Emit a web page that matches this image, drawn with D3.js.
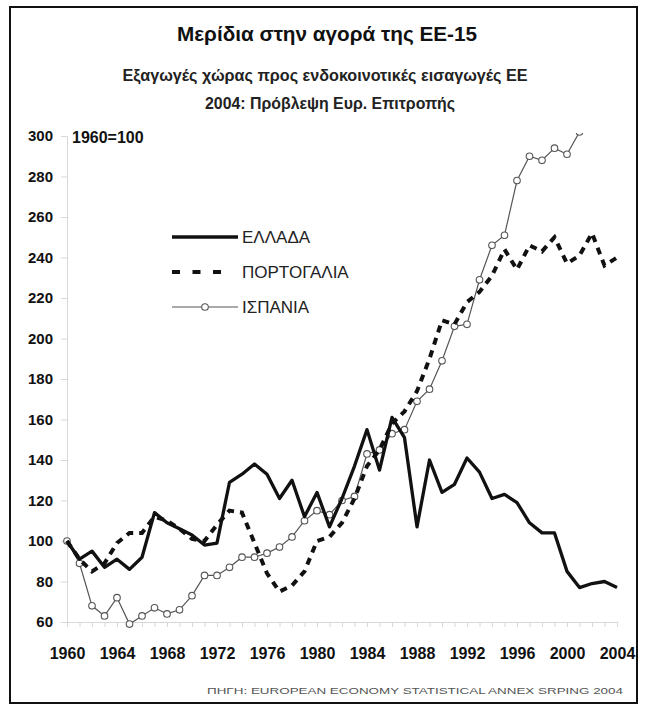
<!DOCTYPE html>
<html>
<head>
<meta charset="utf-8">
<script src="https://cdn.jsdelivr.net/npm/d3@7"></script>
<style>
  body { margin: 0; background: #fff; }
  text { font-family: "Liberation Sans", Arial, sans-serif; }
</style>
</head>
<body>
<div id="canvas"></div>
<script>
// Data (1960 = 100)
var years = d3.range(1960, 2005);
var greece = [100, 91, 95, 87, 91, 86, 92, 114, 109, 106, 103, 98, 99, 129, 133, 138, 133, 121, 130, 112,
              124, 107, 121, 137, 155, 135, 161, 151, 107, 140, 124, 128, 141, 134, 121, 123, 119, 109, 104, 104,
              85, 77, 79, 80, 77];
var portugal = [100, 91, 85, 89, 99, 104, 104, 112, 110, 106, 101, 100, 108, 115, 114, 99, 84, 75, 78, 85,
                100, 102, 109, 121, 137, 145, 158, 164, 174, 190, 209, 207, 218, 223, 231, 244, 234, 246, 243, 250,
                237, 241, 252, 236, 240];
var spainYears = d3.range(1960, 2002);
var spain = [100, 89, 68, 63, 72, 59, 63, 67, 64, 66, 73, 83, 83, 87, 92, 92, 94, 97, 102, 110,
             115, 113, 120, 122, 143, 145, 153, 155, 169, 175, 189, 206, 207, 229, 246, 251, 278, 290, 288, 294,
             291, 302];
var yTicks = [60, 80, 100, 120, 140, 160, 180, 200, 220, 240, 260, 280, 300];
var seriesNames = ["ΕΛΛΑΔΑ", "ΠΟΡΤΟΓΑΛΙΑ", "ΙΣΠΑΝΙΑ"];

var w = 645, h = 710;

var svg = d3.select("#canvas")
    .append("svg")
    .attr("width", w)
    .attr("height", h)
    .style("background-color", "white");

// frame
svg.append("rect")
    .attr("x", 10).attr("y", 7)
    .attr("width", 627).attr("height", 696)
    .attr("fill", "none")
    .attr("stroke", "#111")
    .attr("stroke-width", 2);

// titles
svg.append("text")
    .attr("x", 327).attr("y", 41)
    .attr("text-anchor", "middle")
    .attr("textLength", 300).attr("lengthAdjust", "spacingAndGlyphs")
    .style("font-size", "20px").style("font-weight", "bold").style("fill", "#111")
    .text("Μερίδια στην αγορά της ΕΕ-15");

svg.append("text")
    .attr("x", 325).attr("y", 81)
    .attr("text-anchor", "middle")
    .attr("textLength", 405).attr("lengthAdjust", "spacingAndGlyphs")
    .style("font-size", "16px").style("font-weight", "bold").style("fill", "#222")
    .text("Εξαγωγές χώρας προς ενδοκοινοτικές εισαγωγές ΕΕ");

svg.append("text")
    .attr("x", 330).attr("y", 109)
    .attr("text-anchor", "middle")
    .attr("textLength", 250).attr("lengthAdjust", "spacingAndGlyphs")
    .style("font-size", "16px").style("font-weight", "bold").style("fill", "#222")
    .text("2004: Πρόβλεψη Ευρ.  Επιτροπής");

// scales
var x_scale = d3.scaleLinear().domain([1960, 2004]).range([67, 617]);
var y_scale = d3.scaleLinear().domain([60, 300]).range([622, 136]);

// x axis
var xAxis = svg.append("g")
    .attr("transform", "translate(0,622)")
    .call(d3.axisBottom(x_scale).tickValues(years).tickSize(5)
        .tickFormat(d => d % 4 === 0 ? d : ""));
xAxis.select(".domain").attr("stroke", "#d8d8d8");
xAxis.selectAll(".tick line").attr("stroke", "#d8d8d8");
xAxis.selectAll("text")
    .attr("y", 31).attr("dy", "0.35em")
    .style("font-size", "16px").style("font-weight", "bold")
    .style("font-family", "'Liberation Sans', Arial, sans-serif")
    .attr("fill", "#111");

// y axis
var yAxis = svg.append("g")
    .attr("transform", "translate(67,0)")
    .call(d3.axisLeft(y_scale).tickValues(yTicks).tickSize(6).tickPadding(8));
yAxis.select(".domain").attr("stroke", "#d8d8d8");
yAxis.selectAll(".tick line").attr("stroke", "#d8d8d8");
yAxis.selectAll("text")
    .style("font-size", "15px").style("font-weight", "bold")
    .style("font-family", "'Liberation Sans', Arial, sans-serif")
    .attr("fill", "#111");

svg.append("text")
    .attr("x", 72).attr("y", 143)
    .style("font-size", "16px").style("font-weight", "bold").style("fill", "#111")
    .text("1960=100");

// clip plot area
svg.append("clipPath").attr("id", "plotclip")
    .append("rect")
    .attr("x", 55).attr("y", y_scale(301.5))
    .attr("width", 580).attr("height", 622 - y_scale(301.5) + 10);

var plot = svg.append("g").attr("clip-path", "url(#plotclip)");

var line = d3.line()
    .x(d => x_scale(d[0]))
    .y(d => y_scale(d[1]));

var spainPts = spainYears.map((yr, i) => [yr, spain[i]]);
var greecePts = years.map((yr, i) => [yr, greece[i]]);
var portugalPts = years.map((yr, i) => [yr, portugal[i]]);

plot.append("path")
    .datum(spainPts)
    .attr("d", line)
    .attr("fill", "none")
    .attr("stroke", "#555")
    .attr("stroke-width", 1.2);

plot.selectAll(".spain-dot")
    .data(spainPts)
    .join("circle")
    .attr("class", "spain-dot")
    .attr("cx", d => x_scale(d[0]))
    .attr("cy", d => y_scale(d[1]))
    .attr("r", 3.3)
    .attr("fill", "white")
    .attr("stroke", "#555")
    .attr("stroke-width", 1.1);

plot.append("path")
    .datum(portugalPts)
    .attr("d", line)
    .attr("fill", "none")
    .attr("stroke", "#111")
    .attr("stroke-width", 4)
    .attr("stroke-dasharray", "7,6");

plot.append("path")
    .datum(greecePts)
    .attr("d", line)
    .attr("fill", "none")
    .attr("stroke", "#111")
    .attr("stroke-width", 3.3)
    .attr("stroke-linejoin", "round");

// legend
var legend = svg.append("g");
var legY = [237, 272, 307];

legend.append("line")
    .attr("x1", 172).attr("x2", 238).attr("y1", legY[0]).attr("y2", legY[0])
    .attr("stroke", "#111").attr("stroke-width", 3.3);
legend.append("line")
    .attr("x1", 172).attr("x2", 224).attr("y1", legY[1]).attr("y2", legY[1])
    .attr("stroke", "#111").attr("stroke-width", 4)
    .attr("stroke-dasharray", "8,12.5");
legend.append("line")
    .attr("x1", 172).attr("x2", 238).attr("y1", legY[2]).attr("y2", legY[2])
    .attr("stroke", "#555").attr("stroke-width", 1.2);
legend.append("circle")
    .attr("cx", 205).attr("cy", legY[2]).attr("r", 3.3)
    .attr("fill", "white").attr("stroke", "#555").attr("stroke-width", 1.1);

legend.selectAll(".leg-text")
    .data(seriesNames)
    .join("text")
    .attr("class", "leg-text")
    .attr("x", 242)
    .attr("y", (d, i) => legY[i] + 6)
    .style("font-size", "17px")
    .style("fill", "#222")
    .text(d => d);

// source
svg.append("text")
    .attr("x", 207).attr("y", 694)
    .attr("textLength", 416).attr("lengthAdjust", "spacingAndGlyphs")
    .style("font-size", "9px").style("fill", "#555")
    .text("ΠΗΓΗ: EUROPEAN ECONOMY STATISTICAL ANNEX SRPING 2004");
</script>
</body>
</html>
